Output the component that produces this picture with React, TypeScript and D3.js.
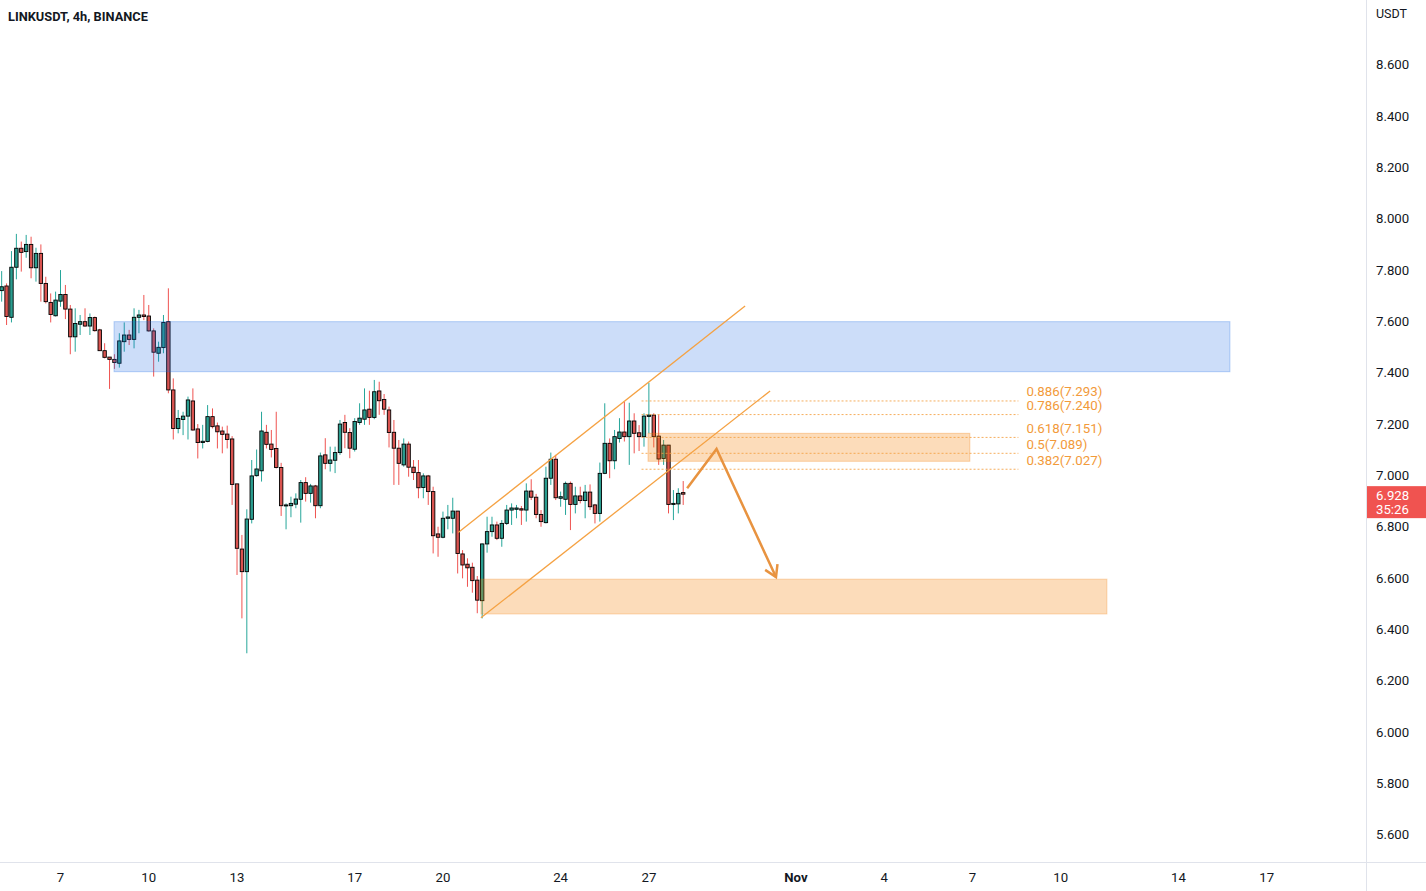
import React from 'react';
import * as d3 from 'd3';

// ---------- data ----------
const TITLE = 'LINKUSDT, 4h, BINANCE';
const FIRST_CANDLE = Date.UTC(2022, 9, 5, 0); // first 4h candle open time
const H4 = 4 * 3600 * 1000;
const DAY = 24 * 3600 * 1000;
const REF_DAY = Date.UTC(2022, 9, 7); // day offsets below count from Oct 7

// [open, high, low, close]
const candles: [number, number, number, number][] = [
  [7.721, 7.797, 7.678, 7.736], [7.739, 7.749, 7.587, 7.620], [7.617, 7.875, 7.597, 7.812], [7.812, 7.942, 7.765, 7.886],
  [7.886, 7.912, 7.795, 7.870], [7.873, 7.938, 7.849, 7.901], [7.901, 7.931, 7.769, 7.810], [7.810, 7.888, 7.756, 7.866],
  [7.866, 7.901, 7.678, 7.749], [7.749, 7.775, 7.671, 7.678], [7.675, 7.710, 7.597, 7.628], [7.623, 7.717, 7.620, 7.684],
  [7.680, 7.801, 7.658, 7.706], [7.706, 7.743, 7.610, 7.649], [7.649, 7.665, 7.473, 7.541], [7.541, 7.652, 7.483, 7.593],
  [7.590, 7.626, 7.548, 7.600], [7.600, 7.652, 7.580, 7.583], [7.583, 7.632, 7.548, 7.616], [7.616, 7.620, 7.561, 7.565],
  [7.568, 7.572, 7.486, 7.487], [7.487, 7.516, 7.457, 7.461], [7.462, 7.462, 7.338, 7.453], [7.453, 7.473, 7.416, 7.441],
  [7.438, 7.555, 7.421, 7.525], [7.522, 7.597, 7.483, 7.548], [7.548, 7.568, 7.509, 7.531], [7.531, 7.652, 7.496, 7.617],
  [7.617, 7.646, 7.555, 7.626], [7.626, 7.704, 7.606, 7.620], [7.622, 7.665, 7.561, 7.564], [7.564, 7.574, 7.386, 7.481],
  [7.477, 7.522, 7.444, 7.500], [7.499, 7.626, 7.477, 7.597], [7.600, 7.730, 7.321, 7.334], [7.334, 7.379, 7.141, 7.184],
  [7.184, 7.256, 7.165, 7.223], [7.219, 7.249, 7.158, 7.232], [7.232, 7.308, 7.141, 7.295], [7.291, 7.340, 7.175, 7.178],
  [7.182, 7.201, 7.067, 7.129], [7.129, 7.198, 7.106, 7.134], [7.133, 7.275, 7.130, 7.230], [7.230, 7.262, 7.184, 7.191],
  [7.194, 7.207, 7.106, 7.171], [7.174, 7.191, 7.087, 7.161], [7.162, 7.195, 7.106, 7.141], [7.143, 7.154, 6.886, 6.966],
  [6.968, 6.968, 6.613, 6.717], [6.714, 6.769, 6.444, 6.626], [6.626, 6.869, 6.308, 6.831], [6.830, 7.061, 6.814, 6.999],
  [7.000, 7.102, 6.996, 7.026], [7.019, 7.249, 6.977, 7.174], [7.169, 7.198, 7.106, 7.122], [7.123, 7.178, 7.071, 7.102],
  [7.106, 7.249, 7.028, 7.032], [7.032, 7.050, 6.843, 6.883], [6.882, 6.892, 6.791, 6.886], [6.883, 6.918, 6.838, 6.892],
  [6.889, 6.931, 6.873, 6.909], [6.908, 6.983, 6.817, 6.973], [6.973, 6.994, 6.899, 6.931], [6.931, 6.968, 6.895, 6.960],
  [6.960, 6.964, 6.834, 6.883], [6.883, 7.090, 6.873, 7.077], [7.081, 7.146, 7.025, 7.048], [7.048, 7.113, 7.016, 7.061],
  [7.060, 7.113, 7.010, 7.090], [7.090, 7.217, 7.081, 7.201], [7.207, 7.237, 7.107, 7.169], [7.168, 7.185, 7.068, 7.107],
  [7.103, 7.224, 7.094, 7.211], [7.207, 7.282, 7.198, 7.224], [7.220, 7.340, 7.198, 7.256], [7.259, 7.331, 7.198, 7.227],
  [7.227, 7.373, 7.220, 7.327], [7.330, 7.366, 7.237, 7.292], [7.297, 7.318, 7.237, 7.259], [7.256, 7.269, 7.110, 7.168],
  [7.169, 7.217, 6.964, 7.107], [7.107, 7.139, 6.964, 7.048], [7.042, 7.145, 7.035, 7.123], [7.123, 7.133, 6.996, 7.033],
  [7.033, 7.061, 6.983, 7.012], [7.012, 7.061, 6.912, 6.953], [6.954, 7.009, 6.912, 6.999], [6.999, 7.003, 6.886, 6.938],
  [6.938, 6.957, 6.697, 6.766], [6.773, 6.801, 6.684, 6.760], [6.760, 6.860, 6.756, 6.834], [6.834, 6.886, 6.791, 6.839],
  [6.834, 6.914, 6.775, 6.862], [6.862, 6.862, 6.619, 6.697], [6.695, 6.710, 6.600, 6.652], [6.655, 6.678, 6.567, 6.641],
  [6.643, 6.661, 6.544, 6.591], [6.593, 6.609, 6.464, 6.515], [6.513, 6.736, 6.444, 6.734], [6.734, 6.840, 6.700, 6.782],
  [6.782, 6.840, 6.762, 6.808], [6.808, 6.821, 6.749, 6.756], [6.756, 6.827, 6.723, 6.814], [6.814, 6.886, 6.808, 6.866],
  [6.866, 6.892, 6.808, 6.874], [6.869, 6.886, 6.834, 6.874], [6.871, 6.882, 6.808, 6.866], [6.866, 6.970, 6.821, 6.940],
  [6.940, 6.986, 6.905, 6.916], [6.916, 6.929, 6.834, 6.849], [6.849, 6.866, 6.801, 6.821], [6.817, 7.035, 6.814, 6.990],
  [6.990, 7.090, 6.964, 7.064], [7.064, 7.081, 6.905, 6.914], [6.912, 6.938, 6.879, 6.918], [6.908, 6.977, 6.847, 6.970],
  [6.970, 6.977, 6.788, 6.888], [6.888, 6.957, 6.853, 6.921], [6.921, 6.957, 6.892, 6.903], [6.903, 6.964, 6.834, 6.936],
  [6.936, 6.966, 6.866, 6.879], [6.886, 6.890, 6.814, 6.853], [6.853, 7.051, 6.821, 7.009], [7.009, 7.282, 7.006, 7.126],
  [7.126, 7.145, 6.990, 7.058], [7.058, 7.178, 7.025, 7.152], [7.145, 7.224, 7.129, 7.170], [7.170, 7.288, 7.133, 7.152],
  [7.152, 7.284, 7.042, 7.213], [7.213, 7.243, 7.087, 7.165], [7.167, 7.197, 7.096, 7.152], [7.152, 7.243, 7.113, 7.232],
  [7.231, 7.362, 7.165, 7.236], [7.236, 7.243, 7.110, 7.152], [7.154, 7.236, 7.042, 7.065], [7.067, 7.139, 7.042, 7.119],
  [7.119, 7.119, 6.853, 6.888], [6.888, 6.944, 6.827, 6.892], [6.890, 6.951, 6.853, 6.931], [6.934, 6.979, 6.886, 6.928],
];

const priceTicks = [8.6, 8.4, 8.2, 8.0, 7.8, 7.6, 7.4, 7.2, 7.0, 6.8, 6.6, 6.4, 6.2, 6.0, 5.8, 5.6];
const dateTickDays = [0, 3, 6, 10, 13, 17, 20, 25, 28, 31, 34, 38, 41]; // days after Oct 7
const dateTickLabels = ['7', '10', '13', '17', '20', '24', '27', 'Nov', '4', '7', '10', '14', '17'];

const lastPrice = 6.928;
const countdown = '35:26';

// zones: [startDay, endDay, topPrice, bottomPrice]
const resistanceZone = [1.82, 39.75, 7.6, 7.405];
const targetZone = [14.29, 35.57, 6.597, 6.461];
const fibZone = [19.97, 30.91, 7.165, 7.056];

// fib retracement
const fibRatios = ['0.886', '0.786', '0.618', '0.5', '0.382'];
const fibPrices = [7.293, 7.24, 7.151, 7.089, 7.027];
const fibSpan = [19.75, 32.56];

// channel lines: [day, price] endpoints
const channelUpper: [number, number][] = [[13.52, 6.779], [23.27, 7.661]];
const channelLower: [number, number][] = [[14.29, 6.446], [24.12, 7.33]];
// projected path arrow
const arrowPath: [number, number][] = [[21.3, 6.951], [22.3, 7.104], [24.32, 6.605]];

// ---------- layout ----------
const W = 1426;
const H = 891;
const PLOT_RIGHT = 1366;
const PLOT_BOTTOM = 862;

const FONT = 'Roboto, "Noto Sans", Arial, sans-serif';

export default function App() {
  const x = d3
    .scaleUtc()
    .domain([new Date(REF_DAY), new Date(REF_DAY + 41 * DAY)])
    .range([60.5, 1266.7]);
  const y = d3.scaleLinear().domain([5.6, 8.6]).range([835, 65]);
  const xd = (d: number) => x(new Date(REF_DAY + d * DAY));

  const bodyW = 3.4;
  const up = '#26a69a';
  const down = '#ef5350';
  const upFill = '#2a9d8f';
  const downFill = '#d9534f';
  const orange = '#f5a142';

  const line = d3
    .line<[number, number]>()
    .x((p) => xd(p[0]))
    .y((p) => y(p[1]));

  // arrowhead
  const [p1, p2] = [arrowPath[1], arrowPath[2]];
  const ax = xd(p2[0]);
  const ay = y(p2[1]);
  const ang = Math.atan2(ay - y(p1[1]), ax - xd(p1[0]));
  const ah = 13;
  const spread = 0.55;
  const head = `M${ax - ah * Math.cos(ang - spread)},${ay - ah * Math.sin(ang - spread)} L${ax},${ay} L${ax - ah * Math.cos(ang + spread)},${ay - ah * Math.sin(ang + spread)}`;

  return (
    <div>
      <style>{`body{margin:0;background:#fff}`}</style>
      <svg width={W} height={H} style={{ display: 'block', fontFamily: FONT }}>
        <rect x={0} y={0} width={W} height={H} fill="#fff" />
        <clipPath id="plot">
          <rect x={0} y={0} width={PLOT_RIGHT} height={PLOT_BOTTOM} />
        </clipPath>

        <g clipPath="url(#plot)">
          {/* candles */}
          {candles.map((c, i) => {
            const [o, h, l, cl] = c;
            const cx = x(new Date(FIRST_CANDLE + i * H4));
            const isUp = cl >= o;
            const top = y(Math.max(o, cl));
            const bot = y(Math.min(o, cl));
            return (
              <g key={i}>
                <line x1={cx} x2={cx} y1={y(h)} y2={y(l)} stroke={isUp ? up : down} strokeWidth={1} />
                <rect
                  x={cx - bodyW / 2}
                  y={top}
                  width={bodyW}
                  height={Math.max(1, bot - top)}
                  fill={isUp ? upFill : downFill}
                  stroke="#000"
                  strokeWidth={0.9}
                />
              </g>
            );
          })}

          {/* resistance zone */}
          <rect
            x={xd(resistanceZone[0])}
            y={y(resistanceZone[2])}
            width={xd(resistanceZone[1]) - xd(resistanceZone[0])}
            height={y(resistanceZone[3]) - y(resistanceZone[2])}
            fill="rgb(33,110,230)"
            fillOpacity={0.23}
            stroke="rgb(33,110,230)"
            strokeOpacity={0.3}
          />
          {/* target zone */}
          <rect
            x={xd(targetZone[0])}
            y={y(targetZone[2])}
            width={xd(targetZone[1]) - xd(targetZone[0])}
            height={y(targetZone[3]) - y(targetZone[2])}
            fill="rgb(245,124,0)"
            fillOpacity={0.27}
            stroke="rgb(245,124,0)"
            strokeOpacity={0.25}
          />
          {/* fib zone */}
          <rect
            x={xd(fibZone[0])}
            y={y(fibZone[2])}
            width={xd(fibZone[1]) - xd(fibZone[0])}
            height={y(fibZone[3]) - y(fibZone[2])}
            fill="rgb(245,124,0)"
            fillOpacity={0.27}
            stroke="rgb(245,124,0)"
            strokeOpacity={0.3}
          />

          {/* fib lines */}
          {fibPrices.map((p, i) => (
            <g key={i}>
              <line
                x1={xd(fibSpan[0])}
                x2={xd(fibSpan[1])}
                y1={y(p) + 0.5}
                y2={y(p) + 0.5}
                stroke={orange}
                strokeWidth={1}
                strokeDasharray="2,2"
                opacity={0.85}
              />
              <text x={xd(fibSpan[1]) + 8} y={y(p) - 4} fontSize={13.3} fill="#f29a3a">
                {`${fibRatios[i]}(${p.toFixed(3)})`}
              </text>
            </g>
          ))}

          {/* channel */}
          <path d={line(channelUpper) || ''} stroke={orange} strokeWidth={1.3} fill="none" />
          <path d={line(channelLower) || ''} stroke={orange} strokeWidth={1.3} fill="none" />

          {/* projection arrow */}
          <path d={line(arrowPath) || ''} stroke="#e89340" strokeWidth={2.5} fill="none" strokeLinejoin="miter" />
          <path d={head} stroke="#e89340" strokeWidth={2.5} fill="none" />
        </g>

        {/* title */}
        <text x={8} y={21} fontSize={12.8} fontWeight="bold" fill="#131722">
          {TITLE}
        </text>

        {/* axes borders */}
        <line x1={PLOT_RIGHT + 0.5} x2={PLOT_RIGHT + 0.5} y1={0} y2={H} stroke="#e0e3eb" />
        <line x1={0} x2={W} y1={PLOT_BOTTOM + 0.5} y2={PLOT_BOTTOM + 0.5} stroke="#e0e3eb" />

        {/* price axis */}
        <text x={1376} y={15} fontSize={12.5} fill="#131722" dominantBaseline="middle">
          USDT
        </text>
        {priceTicks.map((p) => (
          <text key={p} x={1376} y={y(p) + 1} fontSize={13.2} fill="#131722" dominantBaseline="middle">
            {p.toFixed(3)}
          </text>
        ))}

        {/* last price label */}
        <rect x={PLOT_RIGHT + 1} y={y(lastPrice) - 8} width={W - PLOT_RIGHT - 1} height={32} fill="#f05350" />
        <text x={1376} y={y(lastPrice) + 2} fontSize={13.2} fill="#fff" dominantBaseline="middle">
          {lastPrice.toFixed(3)}
        </text>
        <text x={1376} y={y(lastPrice) + 16} fontSize={13.2} fill="#fff" dominantBaseline="middle">
          {countdown}
        </text>

        {/* time axis */}
        {dateTickDays.map((d, i) => (
          <text
            key={i}
            x={xd(d)}
            y={879}
            fontSize={13.2}
            fill="#131722"
            textAnchor="middle"
            dominantBaseline="middle"
            fontWeight={dateTickLabels[i] === 'Nov' ? 'bold' : 'normal'}
          >
            {dateTickLabels[i]}
          </text>
        ))}
      </svg>
    </div>
  );
}
